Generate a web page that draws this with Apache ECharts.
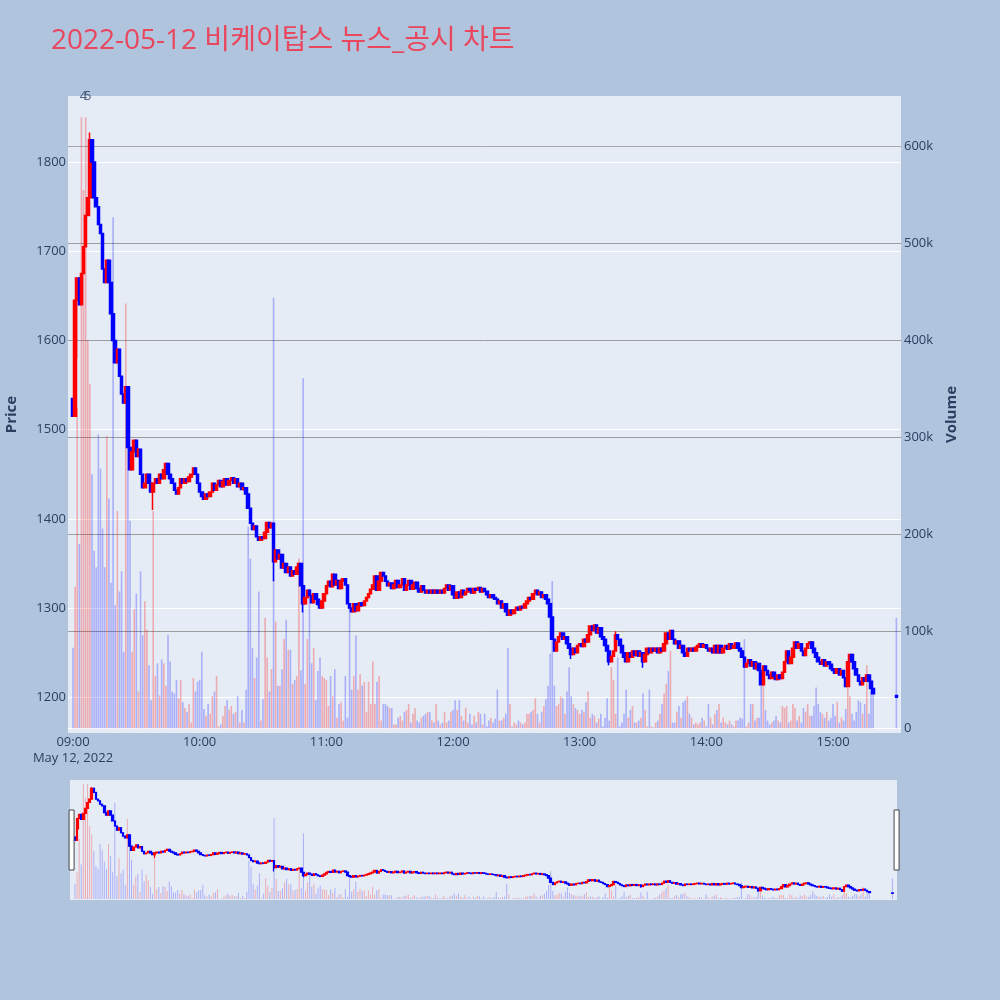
<!DOCTYPE html>
<html>
<head>
<meta charset="utf-8">
<title>비케이탑스 뉴스_공시 차트</title>
<script src="https://cdn.jsdelivr.net/npm/echarts@6/dist/echarts.min.js"></script>
<style>
html, body { margin: 0; padding: 0; background: #b0c4de; }
#main { width: 1000px; height: 1000px; }
</style>
</head>
<body>
<div id="main"></div>
<script>
// minute candles from 09:00 (index 0) to 15:19, close prices
var firstOpen = 1535;
var closes = [
	1515, 1645, 1670, 1640, 1675, 1705, 1740, 1760, 1825, 1800,
	1760, 1750, 1730, 1720, 1680, 1665, 1690, 1665, 1630, 1600,
	1575, 1590, 1560, 1540, 1530, 1548, 1480, 1455, 1475, 1488,
	1470, 1478, 1450, 1435, 1440, 1450, 1440, 1430, 1440, 1445,
	1440, 1450, 1445, 1455, 1462, 1450, 1445, 1440, 1432, 1428,
	1435, 1445, 1440, 1445, 1442, 1447, 1450, 1457, 1450, 1440,
	1430, 1425, 1422, 1428, 1425, 1430, 1440, 1432, 1438, 1443,
	1436, 1442, 1445, 1438, 1443, 1446, 1440, 1445, 1436, 1440,
	1433, 1435, 1428, 1412, 1395, 1388, 1392, 1380, 1376, 1380,
	1378, 1385, 1396, 1390, 1395, 1352, 1365, 1355, 1360, 1345,
	1350, 1340, 1346, 1336, 1342, 1338, 1346, 1350, 1325, 1305,
	1312, 1320, 1314, 1306, 1316, 1310, 1304, 1300, 1308, 1316,
	1325, 1330, 1324, 1338, 1326, 1331, 1322, 1330, 1333, 1326,
	1305, 1300, 1296, 1305, 1297, 1302, 1306, 1303, 1308, 1312,
	1316, 1321, 1326, 1336, 1320, 1330, 1340, 1336, 1330, 1325,
	1328, 1322, 1326, 1331, 1323, 1326, 1333, 1320, 1326, 1331,
	1321, 1326, 1329, 1322, 1318, 1325, 1320, 1317, 1320, 1317,
	1320, 1317, 1320, 1317, 1320, 1317, 1322, 1326, 1320, 1325,
	1315, 1311, 1318, 1312, 1320, 1315, 1318, 1322, 1320, 1317,
	1322, 1320, 1323, 1318, 1322, 1319, 1315, 1312, 1315, 1312,
	1310, 1305, 1308, 1300, 1305, 1296, 1292, 1298, 1294, 1298,
	1301, 1298, 1302, 1300, 1305, 1308, 1312, 1310, 1316, 1320,
	1315, 1318, 1312, 1315, 1310, 1305, 1290, 1265, 1252, 1262,
	1268, 1272, 1265, 1268, 1260, 1255, 1248, 1255, 1250, 1258,
	1260, 1257, 1265, 1262, 1270, 1280, 1275, 1281, 1272, 1278,
	1268, 1265, 1258, 1252, 1240, 1246, 1252, 1270, 1265, 1258,
	1250, 1245, 1240, 1250, 1245, 1252, 1247, 1252, 1246, 1250,
	1240, 1248, 1255, 1250, 1255, 1252, 1255, 1250, 1255, 1252,
	1260, 1272, 1265, 1275, 1265, 1260, 1263, 1255, 1258, 1250,
	1246, 1255, 1252, 1255, 1252, 1256, 1258, 1260, 1256, 1259,
	1255, 1252, 1255, 1250, 1258, 1250, 1258, 1250, 1255, 1258,
	1254, 1260, 1255, 1258, 1261, 1255, 1252, 1245, 1234, 1238,
	1242, 1235, 1240, 1232, 1238, 1230, 1214, 1235, 1230, 1225,
	1221, 1228, 1224, 1220, 1225, 1221, 1228, 1240, 1252, 1238,
	1245, 1255, 1262, 1255, 1260, 1252, 1247, 1255, 1260, 1262,
	1255, 1250, 1245, 1240, 1237, 1242, 1235, 1240, 1237, 1232,
	1230, 1227, 1232, 1225, 1230, 1222, 1212, 1240, 1248, 1240,
	1232, 1225, 1218, 1214, 1222, 1218, 1225, 1218, 1210, 1204
];
// volume per minute, in thousands
var volumesK = [
	83, 146, 330, 190, 630, 555, 630, 400, 355, 262,
	183, 166, 303, 268, 206, 166, 301, 237, 150, 527,
	127, 224, 141, 162, 79, 438, 343, 214, 79, 123,
	139, 38, 162, 96, 131, 102, 65, 29, 224, 54,
	67, 34, 71, 67, 44, 96, 69, 38, 36, 50,
	31, 50, 27, 21, 17, 25, 6, 52, 38, 48,
	50, 79, 20, 13, 25, 15, 33, 38, 54, 2,
	4, 13, 23, 29, 19, 23, 15, 17, 33, 6,
	19, 6, 40, 208, 175, 83, 52, 73, 141, 8,
	30, 114, 73, 38, 61, 444, 110, 44, 44, 61,
	92, 112, 81, 81, 46, 50, 54, 175, 60, 361,
	46, 92, 144, 67, 83, 29, 59, 73, 54, 52,
	50, 23, 54, 33, 61, 11, 25, 27, 8, 54,
	11, 125, 40, 54, 96, 40, 56, 44, 48, 17,
	48, 25, 69, 25, 48, 54, 8, 25, 25, 23,
	21, 21, 4, 4, 11, 13, 8, 17, 19, 25,
	6, 15, 21, 8, 6, 11, 13, 15, 17, 17,
	8, 6, 25, 8, 4, 6, 17, 6, 8, 17,
	19, 29, 19, 29, 13, 8, 21, 6, 15, 4,
	13, 6, 17, 15, 4, 15, 2, 8, 11, 6,
	10, 40, 8, 8, 11, 15, 83, 25, 2, 6,
	4, 8, 6, 4, 6, 15, 15, 17, 19, 31,
	15, 6, 17, 23, 30, 44, 77, 152, 44, 23,
	25, 33, 31, 15, 38, 63, 33, 25, 21, 19,
	15, 19, 17, 27, 38, 11, 15, 13, 6, 10,
	15, 2, 11, 31, 8, 63, 50, 15, 73, 2,
	6, 15, 40, 11, 19, 23, 6, 6, 8, 11,
	36, 19, 2, 40, 2, 1, 6, 8, 15, 25,
	36, 46, 59, 80, 6, 6, 17, 23, 11, 27,
	29, 33, 15, 11, 4, 6, 4, 6, 11, 8,
	2, 25, 11, 4, 15, 19, 25, 6, 11, 6,
	4, 8, 4, 2, 8, 8, 11, 10, 92, 2,
	6, 25, 25, 8, 11, 11, 44, 44, 19, 8,
	4, 6, 8, 13, 8, 6, 23, 21, 23, 6,
	8, 25, 21, 8, 13, 6, 21, 17, 25, 13,
	13, 23, 42, 25, 17, 15, 11, 17, 8, 11,
	25, 13, 27, 6, 11, 8, 20, 42, 33, 15,
	8, 17, 29, 27, 15, 25, 65, 15, 38, 42
];
var wickLows = {2: 1580, 38: 1410, 95: 1330, 109: 1295, 236: 1243, 254: 1236, 270: 1233};
var wickHighs = {8: 1833, 257: 1274};
var closingAuction = {minute: 390, open: 1202, close: 1200, volumeK: 114};
var newsMarks = [{minute: 5, text: '4'}, {minute: 7, text: '5'}];

var hourTicks = [0, 60, 120, 180, 240, 300, 360];
var priceTicks = [1200, 1300, 1400, 1500, 1600, 1700, 1800];
var volumeTicks = [0, 100000, 200000, 300000, 400000, 500000, 600000];

var xMin = -2.37, xMax = 392.2;
var priceMin = 1160, priceMax = 1874;
var volMin = -4800, volMax = 651900;

var textColor = '#2a3f5f';
var font = "'Open Sans', 'Noto Sans CJK KR', sans-serif";

var candles = [];
var volumes = [];
function pushCandle(m, o, c, v) {
	var lo = Math.min(o, c), hi = Math.max(o, c);
	if (wickLows[m] != null) lo = Math.min(lo, wickLows[m]);
	if (wickHighs[m] != null) hi = Math.max(hi, wickHighs[m]);
	candles.push([m, o, c, lo, hi]);
	volumes.push({
		value: [m, v * 1000],
		itemStyle: {color: c >= o ? 'rgba(255,0,0,0.28)' : 'rgba(0,0,255,0.26)'}
	});
}
for (var i = 0; i < closes.length; ++i)
	pushCandle(i, i == 0 ? firstOpen : closes[i - 1], closes[i], volumesK[i]);
pushCandle(closingAuction.minute, closingAuction.open, closingAuction.close, closingAuction.volumeK);

function hhmm(m) {
	var t = 9 * 60 + m;
	var h = Math.floor(t / 60), mm = t % 60;
	return (h < 10 ? '0' : '') + h + ':' + (mm < 10 ? '0' : '') + mm;
}

var candleStyle = {
	color: '#ff0000', color0: '#0000ff',
	borderColor: '#ff0000', borderColor0: '#0000ff',
	borderWidth: 1.5
};

var myChart = echarts.init(document.getElementById('main'));
var option = {
	animation: false,
	backgroundColor: '#b0c4de',
	textStyle: {fontFamily: font},
	title: {
		text: '2022-05-12 비케이탑스 뉴스_공시 차트',
		left: 46,
		top: 22,
		textStyle: {color: '#e9475e', fontSize: 28, fontWeight: 'normal', fontFamily: font}
	},
	grid: [
		{left: 68, top: 96, width: 833, height: 637, show: true, backgroundColor: '#e5ecf6', borderWidth: 0, outerBoundsMode: 'none', containLabel: false},
		{left: 70, top: 780, width: 827, height: 120, show: true, backgroundColor: '#e5ecf6', borderWidth: 0, outerBoundsMode: 'none', containLabel: false}
	],
	xAxis: [
		{
			type: 'value', gridIndex: 0, min: xMin, max: xMax,
			axisLine: {show: false},
			axisTick: {show: false},
			splitLine: {show: false},
			axisLabel: {
				customValues: hourTicks,
				color: textColor, fontSize: 13, lineHeight: 16, margin: 1, fontFamily: font,
				formatter: function (v) {
					return v == 0 ? hhmm(v) + '\nMay 12, 2022' : hhmm(v);
				}
			}
		},
		{type: 'value', gridIndex: 1, min: xMin, max: xMax, show: false}
	],
	yAxis: [
		{
			type: 'value', gridIndex: 0, position: 'left', min: priceMin, max: priceMax,
			name: 'Price', nameLocation: 'middle', nameRotate: 90, nameGap: 49,
			nameTextStyle: {color: textColor, fontSize: 15, fontWeight: 'bold', fontFamily: font},
			axisLine: {show: false},
			axisTick: {show: false, customValues: priceTicks},
			axisLabel: {
				customValues: priceTicks, color: textColor, fontSize: 13, margin: 2, fontFamily: font,
				formatter: function (v) { return String(v); }
			},
			splitLine: {show: true, lineStyle: {color: '#ffffff', width: 1}}
		},
		{
			type: 'value', gridIndex: 0, position: 'right', min: volMin, max: volMax,
			name: 'Volume', nameLocation: 'middle', nameRotate: 90, nameGap: 43,
			nameTextStyle: {color: textColor, fontSize: 15, fontWeight: 'bold', fontFamily: font},
			axisLine: {show: false},
			axisTick: {show: false, customValues: volumeTicks},
			axisLabel: {
				customValues: volumeTicks, color: textColor, fontSize: 13, margin: 3, fontFamily: font,
				formatter: function (v) { return v == 0 ? '0' : (v / 1000) + 'k'; }
			},
			splitLine: {show: true, lineStyle: {color: ['#ffffff', '#9c9c9c', '#9c9c9c', '#9c9c9c', '#9c9c9c', '#9c9c9c', '#a8a8a8'], width: 1}}
		},
		{type: 'value', gridIndex: 1, min: priceMin, max: priceMax, show: false},
		{type: 'value', gridIndex: 1, min: volMin, max: volMax, show: false}
	],
	dataZoom: [{
		type: 'slider', xAxisIndex: 0, filterMode: 'none',
		start: 0, end: 100,
		left: 70, width: 827, top: 780, height: 120,
		showDataShadow: false, showDetail: false, brushSelect: false,
		backgroundColor: 'rgba(0,0,0,0)', borderColor: 'rgba(0,0,0,0)',
		fillerColor: 'rgba(0,0,0,0)',
		handleIcon: 'path://M0,0H5V60H0Z',
		handleSize: '50%',
		handleStyle: {color: '#ffffff', borderColor: '#444444', borderWidth: 1},
		moveHandleSize: 0,
		moveHandleStyle: {opacity: 0},
		emphasis: {
			handleStyle: {color: '#ffffff', borderColor: '#444444', borderWidth: 1},
			moveHandleStyle: {opacity: 0}
		}
	}],
	series: [
		{
			type: 'candlestick', xAxisIndex: 0, yAxisIndex: 0,
			barWidth: 3, itemStyle: candleStyle,
			encode: {x: 0, y: [1, 2, 3, 4]},
			data: candles
		},
		{
			type: 'bar', xAxisIndex: 0, yAxisIndex: 1,
			barWidth: 1.6,
			data: volumes
		},
		{
			type: 'scatter', xAxisIndex: 0, yAxisIndex: 0,
			clip: false, z: 10,
			symbol: 'circle', symbolSize: 2,
			itemStyle: {color: 'rgba(0,0,0,0)'},
			label: {
				show: true, position: 'inside', color: textColor, fontSize: 13, fontFamily: font,
				formatter: function (p) { return p.data[2]; }
			},
			data: newsMarks.map(function (d) { return [d.minute, priceMax, d.text]; })
		},
		{
			type: 'candlestick', xAxisIndex: 1, yAxisIndex: 2,
			barWidth: 2,
			itemStyle: {color: '#ff0000', color0: '#0000ff', borderColor: '#ff0000', borderColor0: '#0000ff', borderWidth: 1.2},
			encode: {x: 0, y: [1, 2, 3, 4]},
			data: candles
		},
		{
			type: 'bar', xAxisIndex: 1, yAxisIndex: 3,
			barWidth: 1,
			data: volumes
		}
	]
};
myChart.setOption(option);
</script>
</body>
</html>
